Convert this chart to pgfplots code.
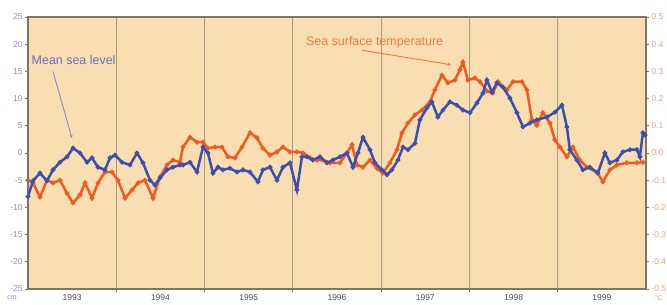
\documentclass[border=0pt]{standalone}
\usepackage{fontspec}
\setmainfont{Liberation Sans}
\usepackage{pgfplots}
\pgfplotsset{compat=1.18}
\usetikzlibrary{arrows.meta}
\definecolor{bg}{HTML}{F9DEB1}
\definecolor{msl}{HTML}{3A4FB0}
\definecolor{sst}{HTML}{F05A22}
\definecolor{framec}{HTML}{7D7565}
\definecolor{gridc}{HTML}{A69A86}
\definecolor{lblue}{HTML}{8790CC}
\definecolor{lred}{HTML}{F7A27E}
\definecolor{ablue}{HTML}{6A72C4}
\definecolor{ared}{HTML}{F47A40}
\begin{document}
\begin{tikzpicture}[x=1bp,y=1bp]
\path[use as bounding box] (0,0) rectangle (667,304);
% right axis: sea surface temperature (deg C)
\begin{axis}[at={(28bp,15bp)}, anchor=south west, scale only axis,
  width=618bp, height=272bp,
  xmin=1993, xmax=2000, ymin=-0.5, ymax=0.5,
  axis background/.style={fill=bg},
  axis line style={framec, line width=1.4bp},
  xtick={1993.5,1994.5,1995.5,1996.5,1997.5,1998.5,1999.5},
  xticklabels={1993,1994,1995,1996,1997,1998,1999},
  minor xtick={1994,1995,1996,1997,1998,1999},
  xminorgrids, minor grid style={gridc, line width=1bp},
  major x tick style={draw=none},
  ytick={-0.5,-0.4,-0.3,-0.2,-0.1,0,0.1,0.2,0.3,0.4,0.5},
  ytick pos=right, xtick pos=bottom, tick align=outside,
  major tick length=3bp, minor tick length=3bp,
  tick style={framec, line width=0.8bp},
  yticklabel style={lred, font=\fontsize{8.5}{9}\selectfont, xshift=-1bp},
  xticklabel style={black!70, font=\fontsize{8.5}{9}\selectfont, yshift=1bp},
  /pgf/number format/.cd, fixed, fixed zerofill, precision=1, assume math mode=true,
]
\addplot[sst, line width=2.5bp, mark=*, mark size=0.9bp, mark options={fill=sst!85!black, draw=none}] coordinates {
(1993.00,-0.100)(1993.057,-0.110)(1993.136,-0.162)(1993.215,-0.100)(1993.283,-0.110)(1993.362,-0.100)(1993.442,-0.148)(1993.510,-0.184)(1993.589,-0.154)(1993.646,-0.110)(1993.725,-0.166)(1993.793,-0.110)(1993.872,-0.070)(1993.951,-0.070)(1994.019,-0.100)(1994.099,-0.166)(1994.178,-0.136)(1994.246,-0.110)(1994.325,-0.100)(1994.416,-0.166)(1994.495,-0.088)(1994.574,-0.044)(1994.642,-0.026)(1994.721,-0.034)(1994.755,0.022)(1994.835,0.058)(1994.914,0.040)(1994.982,0.040)(1995.038,0.018)(1995.118,0.022)(1995.197,0.022)(1995.265,-0.014)(1995.344,-0.018)(1995.424,0.022)(1995.514,0.074)(1995.593,0.056)(1995.661,0.018)(1995.741,-0.008)(1995.820,0.004)(1995.888,0.022)(1995.967,0.004)(1996.046,0.004)(1996.114,0.000)(1996.194,-0.018)(1996.273,-0.026)(1996.341,-0.026)(1996.420,-0.036)(1996.533,-0.036)(1996.613,0.000)(1996.669,0.030)(1996.726,-0.044)(1996.794,-0.052)(1996.873,-0.026)(1996.952,-0.056)(1997.020,-0.074)(1997.100,-0.036)(1997.179,0.012)(1997.236,0.074)(1997.304,0.110)(1997.383,0.140)(1997.462,0.158)(1997.553,0.188)(1997.609,0.232)(1997.689,0.286)(1997.757,0.258)(1997.836,0.268)(1997.892,0.306)(1997.926,0.334)(1997.983,0.268)(1998.062,0.276)(1998.119,0.262)(1998.198,0.228)(1998.266,0.220)(1998.323,0.262)(1998.425,0.232)(1998.493,0.262)(1998.595,0.262)(1998.651,0.232)(1998.708,0.122)(1998.764,0.102)(1998.832,0.148)(1998.912,0.110)(1998.968,0.048)(1999.025,0.022)(1999.104,-0.014)(1999.172,0.022)(1999.251,-0.026)(1999.330,-0.052)(1999.444,-0.070)(1999.512,-0.106)(1999.591,-0.062)(1999.670,-0.044)(1999.783,-0.036)(1999.897,-0.036)(1999.965,-0.034)
};
\end{axis}
% left axis: mean sea level (cm)
\begin{axis}[at={(28bp,15bp)}, anchor=south west, scale only axis,
  width=618bp, height=272bp,
  xmin=1993, xmax=2000, ymin=-25, ymax=25,
  axis line style={framec, line width=1.4bp},
  xtick=\empty,
  ytick={-25,-20,-15,-10,-5,0,5,10,15,20,25},
  ytick pos=left, tick align=outside, major tick length=3bp,
  tick style={framec, line width=0.8bp},
  yticklabel style={lblue, font=\fontsize{8.5}{9}\selectfont, xshift=1bp},
  /pgf/number format/assume math mode=true,
]
\addplot[msl, line width=2.5bp, mark=*, mark size=0.9bp, mark options={fill=msl!80!black, draw=none}] coordinates {
(1993.00,-8.0)(1993.057,-5.1)(1993.136,-3.7)(1993.215,-5.1)(1993.283,-3.1)(1993.362,-1.7)(1993.442,-0.7)(1993.510,0.9)(1993.589,0.0)(1993.668,-1.7)(1993.725,-0.9)(1993.793,-2.6)(1993.872,-3.1)(1993.929,-0.9)(1993.985,-0.4)(1994.065,-1.7)(1994.155,-2.2)(1994.235,0.0)(1994.302,-1.8)(1994.382,-5.0)(1994.438,-5.9)(1994.495,-4.6)(1994.574,-3.1)(1994.642,-2.6)(1994.721,-2.2)(1994.755,-2.2)(1994.835,-1.7)(1994.914,-3.5)(1994.982,1.1)(1995.038,0.0)(1995.095,-3.7)(1995.152,-2.6)(1995.208,-3.1)(1995.288,-2.8)(1995.367,-3.5)(1995.435,-3.1)(1995.514,-3.5)(1995.605,-5.3)(1995.661,-3.1)(1995.741,-2.6)(1995.820,-5.0)(1995.888,-2.6)(1995.967,-1.8)(1996.046,-6.8)(1996.103,-0.7)(1996.160,-0.7)(1996.228,-1.3)(1996.307,-0.7)(1996.386,-1.8)(1996.454,-1.3)(1996.533,-0.7)(1996.613,0.0)(1996.681,-2.6)(1996.737,0.0)(1996.794,2.9)(1996.873,0.6)(1996.930,-1.8)(1997.009,-3.1)(1997.066,-4.0)(1997.122,-3.1)(1997.190,-1.3)(1997.247,1.1)(1997.304,0.6)(1997.383,1.8)(1997.439,6.1)(1997.519,8.3)(1997.575,9.4)(1997.643,6.6)(1997.700,7.9)(1997.779,9.4)(1997.858,8.8)(1997.926,7.9)(1998.006,7.4)(1998.085,9.2)(1998.153,11.0)(1998.198,13.4)(1998.255,11.2)(1998.311,12.9)(1998.379,12.1)(1998.459,10.1)(1998.538,7.4)(1998.606,4.8)(1998.685,5.5)(1998.764,6.1)(1998.878,6.6)(1998.968,7.5)(1999.048,8.8)(1999.104,4.8)(1999.138,0.6)(1999.217,-1.3)(1999.285,-3.1)(1999.365,-2.6)(1999.455,-3.7)(1999.534,0.0)(1999.591,-1.8)(1999.670,-1.3)(1999.738,0.2)(1999.818,0.6)(1999.897,0.6)(1999.931,-0.7)(1999.965,3.7)(1999.990,3.3)
};
\node[anchor=west, ablue, font=\fontsize{12.5}{13}\selectfont, inner sep=0pt] at (axis cs:1993.04,17.1) {Mean sea level};
\draw[ablue!80, line width=0.9bp, -{Latex[length=4bp,width=3bp]}] (axis cs:1993.283,15.0) -- (axis cs:1993.50,2.6);
\node[anchor=west, ared, font=\fontsize{12.5}{13}\selectfont, inner sep=0pt] at (axis cs:1996.148,20.4) {Sea surface temperature};
\draw[ared, line width=0.9bp, -{Latex[length=4bp,width=3bp]}] (axis cs:1996.78,18.9) -- (axis cs:1997.80,16.2);
\end{axis}
\node[lblue, font=\fontsize{7}{8}\selectfont, anchor=center] at (12,6) {cm};
\node[lred, font=\fontsize{7}{8}\selectfont, anchor=center] at (659,6) {\textdegree C};
\end{tikzpicture}
\end{document}
